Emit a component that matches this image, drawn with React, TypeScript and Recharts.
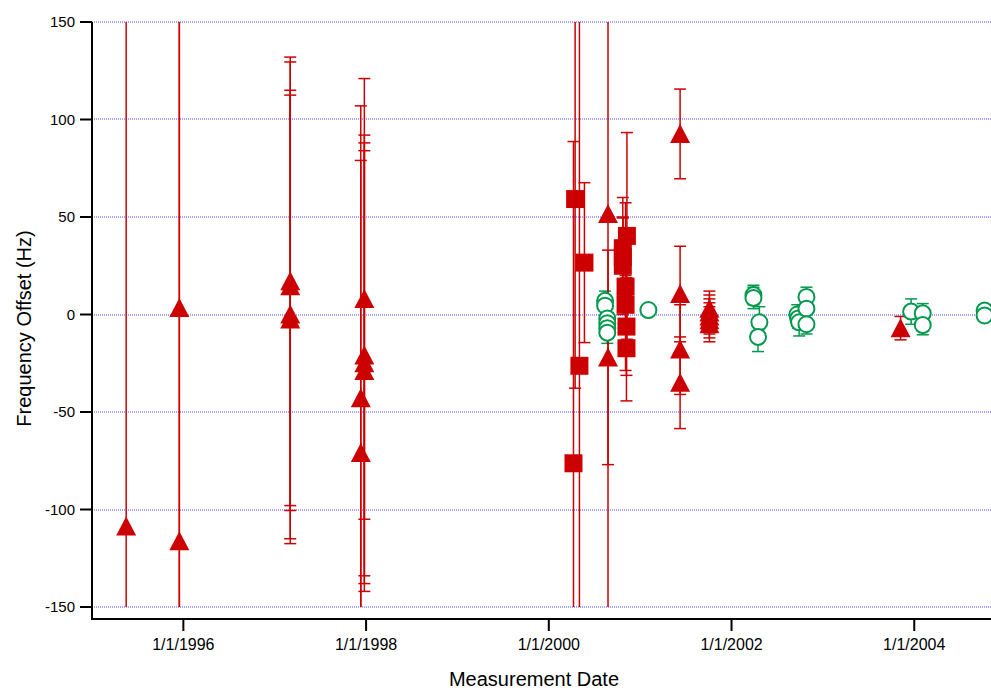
import React from "react";
import { ScatterChart, Scatter, XAxis, YAxis, CartesianGrid, ErrorBar } from "recharts";

const RED = "#cc0000";
const GREEN = "#00994d";

// dates as decimal years, offsets in Hz, errors as +/- Hz
const triangleDates = [
  1995.374, 1995.956, 1995.956,
  1997.17, 1997.17, 1997.17, 1997.17,
  1997.981, 1997.981, 1997.981, 1997.981, 1997.942, 1997.942,
  2000.648, 2000.648,
  2001.437, 2001.437, 2001.437, 2001.437,
  2001.758, 2001.758, 2001.758, 2001.758, 2001.758,
  2003.85,
];
const triangleOffsets = [
  -108.7, -116.3, 3.3,
  17, 14.5, 0, -2.5,
  8, -21, -25, -29, -43, -71,
  51.6, -22,
  92.6, 10.5, -18, -35,
  3, 1, -1, -3, -5,
  -7,
];
const triangleErrors = [
  300, 300, 300,
  115, 115, 115, 115,
  113, 113, 113, 113, 122, 178,
  210, 55,
  23, 24.5, 23, 23.5,
  9, 9, 9, 9, 9,
  6,
];

const squareDates = [2000.27, 2000.288, 2000.335, 2000.39, 2000.855, 2000.81, 2000.81, 2000.81, 2000.84, 2000.84, 2000.85, 2000.85];
const squareOffsets = [-76.3, 59.2, -26.3, 26.6, 40.3, 34, 29.5, 25, 14.3, 5, -6.2, -17.3];
const squareErrors = [165, 97, 180, 41, 53, 26, 20, 25, 43, 15, 25, 27];

const circleDates = [
  2000.616, 2000.616, 2000.64, 2000.64, 2000.64, 2000.64,
  2001.09,
  2002.24, 2002.24, 2002.305, 2002.29,
  2002.72, 2002.73, 2002.74, 2002.82, 2002.82, 2002.82,
  2003.966, 2004.093, 2004.093,
  2004.77, 2004.77,
];
const circleOffsets = [
  7, 4.5, -2, -4.5, -7, -9.3,
  2.3,
  10, 8.5, -4, -11.5,
  0, -2, -4, 9, 3, -5,
  1.5, 0.6, -5.4,
  2, -0.5,
];
const circleErrors = [
  5, 5, 5, 5, 5, 5.5,
  2,
  5, 5.5, 8, 7.5,
  5, 5, 7, 5, 5, 5,
  6.5, 5, 5,
  3, 3,
];

const xTicks = [1996, 1998, 2000, 2002, 2004];
const xTickLabels = ["1/1/1996", "1/1/1998", "1/1/2000", "1/1/2002", "1/1/2004"];
const yTicks = [-150, -100, -50, 0, 50, 100, 150];

const triangles = triangleDates.map((x, i) => ({ x, y: triangleOffsets[i], err: triangleErrors[i] }));
const squares = squareDates.map((x, i) => ({ x, y: squareOffsets[i], err: squareErrors[i] }));
const circles = circleDates.map((x, i) => ({ x, y: circleOffsets[i], err: circleErrors[i] }));

const FONT = "'Liberation Sans', Arial, Helvetica, sans-serif";
const W = 991;
const H = 690;
const TOP = 22;
const Y_AXIS_W = 92;
const X_AXIS_H = 83;
const AXIS_DROP = 12; // x axis is drawn a bit below the plot
const PLOT_H = H - TOP - X_AXIS_H;

const Triangle = (p: any) => (
  <polygon points={`${p.cx},${p.cy - 10} ${p.cx - 10},${p.cy + 9} ${p.cx + 10},${p.cy + 9}`} fill={RED} />
);
const Square = (p: any) => <rect x={p.cx - 9} y={p.cy - 9} width={18} height={18} fill={RED} />;
const Circle = (p: any) => <circle cx={p.cx} cy={p.cy} r={8} fill="#fff" stroke={GREEN} strokeWidth={2} />;

const GridLine = (p: any) => {
  const y = Math.round(p.y1);
  return <line key={p.key} x1={p.x1} x2={p.x2} y1={y} y2={y} stroke="#4a4aff" strokeDasharray="1 1" strokeWidth={1} />;
};

const XTick = (p: any) => {
  const i = xTicks.indexOf(p.payload.value);
  return (
    <g>
      <line x1={p.x} x2={p.x} y1={p.y + AXIS_DROP} y2={p.y + AXIS_DROP + 12} stroke="#000" strokeWidth={2} />
      <text x={p.x} y={p.y + 43} textAnchor="middle" fontSize={16} fill="#000" fontFamily={FONT}>
        {xTickLabels[i]}
      </text>
    </g>
  );
};

export default function App() {
  return (
    <div style={{ position: "absolute", left: 0, top: 0, width: W, height: H, background: "#fff", overflow: "hidden" }}>
      <style>{`.recharts-errorBar { clip-path: url(#plotClip); }`}</style>
      <svg width={0} height={0} style={{ position: "absolute" }}>
        <defs>
          <clipPath id="plotClip">
            <rect x={Y_AXIS_W} y={TOP} width={W - Y_AXIS_W} height={PLOT_H} />
          </clipPath>
        </defs>
      </svg>
      <ScatterChart width={W} height={H} margin={{ top: TOP, right: 0, bottom: 0, left: 0 }}>
        <CartesianGrid vertical={false} horizontal={GridLine} />
        <XAxis
          type="number"
          dataKey="x"
          domain={[1995, 2004.84]}
          allowDataOverflow
          ticks={xTicks}
          height={X_AXIS_H}
          tickSize={0}
          tickMargin={0}
          tickLine={false}
          tick={<XTick />}
          axisLine={{ stroke: "#000", strokeWidth: 2, transform: `translate(0 ${AXIS_DROP})` }}
          label={{
            content: (lp: any) => (
              <text x={lp.viewBox.x + 442} y={lp.viewBox.y + 79} textAnchor="middle" fontSize={20} fill="#000" fontFamily={FONT}>
                Measurement Date
              </text>
            ),
          }}
        />
        <YAxis
          type="number"
          dataKey="y"
          domain={[-150, 150]}
          allowDataOverflow
          ticks={yTicks}
          width={Y_AXIS_W}
          tickSize={12}
          tickMargin={5}
          tick={{ fill: "#000", fontSize: 15, fontFamily: FONT }}
          tickLine={{ stroke: "#000", strokeWidth: 2 }}
          axisLine={{ stroke: "#000", strokeWidth: 2 }}
          label={{
            content: (lp: any) => {
              const cx = lp.viewBox.x + 24;
              const cy = lp.viewBox.y + lp.viewBox.height / 2 + 14;
              return (
                <text x={cx} y={cy} transform={`rotate(-90 ${cx} ${cy})`} textAnchor="middle" dominantBaseline="central" fontSize={20} fill="#000" fontFamily={FONT}>
                  Frequency Offset (Hz)
                </text>
              );
            },
          }}
        />
        <Scatter data={circles} shape={Circle} isAnimationActive={false}>
          <ErrorBar dataKey="err" direction="y" width={6} stroke={GREEN} strokeWidth={1.5} clipPath="url(#plotClip)" />
        </Scatter>
        <Scatter data={triangles} shape={Triangle} isAnimationActive={false}>
          <ErrorBar dataKey="err" direction="y" width={6} stroke={RED} strokeWidth={1.5} clipPath="url(#plotClip)" />
        </Scatter>
        <Scatter data={squares} shape={Square} isAnimationActive={false}>
          <ErrorBar dataKey="err" direction="y" width={6} stroke={RED} strokeWidth={1.5} clipPath="url(#plotClip)" />
        </Scatter>
      </ScatterChart>
      <div style={{ position: "absolute", left: Y_AXIS_W - 1, top: TOP + PLOT_H - 1, width: 2, height: AXIS_DROP + 2, background: "#000" }} />
    </div>
  );
}
